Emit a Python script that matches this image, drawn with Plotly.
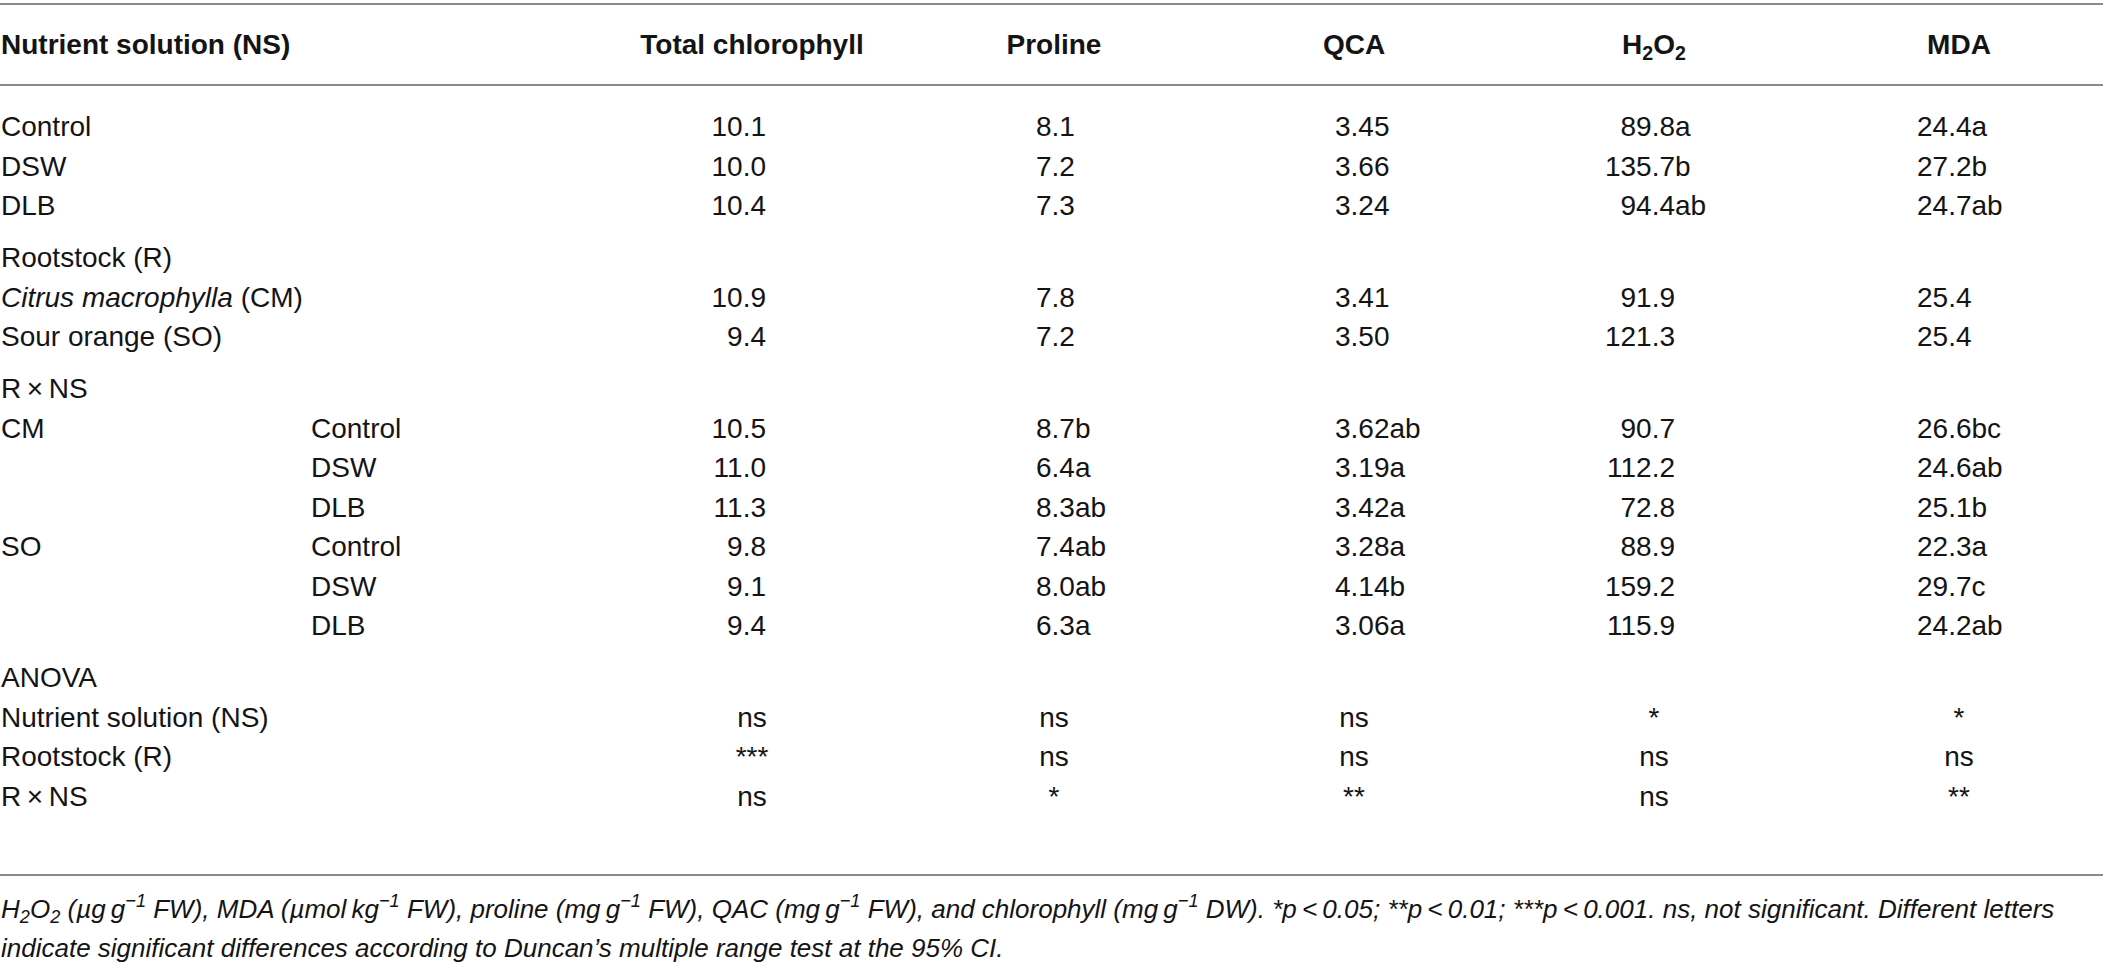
import plotly.graph_objects as go

# ---------------- data ----------------
ns_levels = ["Control", "DSW", "DLB"]
rootstocks = ["<i>Citrus macrophylla</i> (CM)", "Sour orange (SO)"]
rxns_rootstock = ["CM", "", "", "SO", "", ""]
rxns_solution = ["Control", "DSW", "DLB", "Control", "DSW", "DLB"]
anova_sources = ["Nutrient solution (NS)", "Rootstock (R)", "R\u2009×\u2009NS"]
section_titles = ["Rootstock (R)", "R\u2009×\u2009NS", "ANOVA"]

row_header = "Nutrient solution (NS)"
column_headers = ["Total chlorophyll", "Proline", "QCA", "H<sub>2</sub>O<sub>2</sub>", "MDA"]

chlorophyll = [10.1, 10.0, 10.4, 10.9, 9.4, 10.5, 11.0, 11.3, 9.8, 9.1, 9.4]
chlorophyll_letters = ["", "", "", "", "", "", "", "", "", "", ""]
proline = [8.1, 7.2, 7.3, 7.8, 7.2, 8.7, 6.4, 8.3, 7.4, 8.0, 6.3]
proline_letters = ["", "", "", "", "", "b", "a", "ab", "ab", "ab", "a"]
qca = [3.45, 3.66, 3.24, 3.41, 3.50, 3.62, 3.19, 3.42, 3.28, 4.14, 3.06]
qca_letters = ["", "", "", "", "", "ab", "a", "a", "a", "b", "a"]
h2o2 = [89.8, 135.7, 94.4, 91.9, 121.3, 90.7, 112.2, 72.8, 88.9, 159.2, 115.9]
h2o2_letters = ["a", "b", "ab", "", "", "", "", "", "", "", ""]
mda = [24.4, 27.2, 24.7, 25.4, 25.4, 26.6, 24.6, 25.1, 22.3, 29.7, 24.2]
mda_letters = ["a", "b", "ab", "", "", "bc", "ab", "b", "a", "c", "ab"]

anova_chlorophyll = ["ns", "***", "ns"]
anova_proline = ["ns", "ns", "*"]
anova_qca = ["ns", "ns", "**"]
anova_h2o2 = ["*", "ns", "ns"]
anova_mda = ["*", "ns", "**"]

footnote_lines = [
    "<i>H<sub>2</sub>O<sub>2</sub> (µg\u2009g<sup>−1</sup> FW), MDA (µmol\u2009kg<sup>−1</sup> FW), "
    "proline (mg\u2009g<sup>−1</sup> FW), QAC (mg\u2009g<sup>−1</sup> FW), and chlorophyll "
    "(mg\u2009g<sup>−1</sup> DW). *p\u2009&lt;\u20090.05; **p\u2009&lt;\u20090.01; "
    "***p\u2009&lt;\u20090.001. ns, not significant. Different letters</i>",
    "<i>indicate significant differences according to Duncan’s multiple range test at the 95% CI.</i>",
]

# ---------------- layout constants ----------------
W, H = 2103, 964
FONT = "Liberation Sans, Arial, Helvetica, sans-serif"
FS = 28
FS_NOTE = 26
TXT = "#141414"
RULE = "#8a8a8a"

ROW0, ROW_STEP, GROUP_GAP = 129, 39.5, 12.5
HEADER_Y = 47
RULE_YS = [4, 85, 875]
NOTE_YS = [911, 950]

X_LABEL = 1
X_SUB = 311
COL_CENTERS = [752, 1054, 1354, 1654, 1959]
X_CHL_RIGHT = 766
X_PRO_LEFT = 1036
X_QCA_LEFT = 1335
X_H2O2_RIGHT = 1675
X_MDA_LEFT = 1917

# ---------------- row structure ----------------
rows = []  # (label, sub, data_index, anova_index, group)
for k, l in enumerate(ns_levels):
    rows.append((l, "", k, None, 0))
rows.append((section_titles[0], "", None, None, 1))
for k, l in enumerate(rootstocks):
    rows.append((l, "", len(ns_levels) + k, None, 1))
rows.append((section_titles[1], "", None, None, 2))
for k in range(len(rxns_solution)):
    rows.append((rxns_rootstock[k], rxns_solution[k], len(ns_levels) + len(rootstocks) + k, None, 2))
rows.append((section_titles[2], "", None, None, 3))
for k, l in enumerate(anova_sources):
    rows.append((l, "", None, k, 3))

row_y = [ROW0 + i * ROW_STEP + r[4] * GROUP_GAP for i, r in enumerate(rows)]
data_y = [None] * len(chlorophyll)
anova_y = [None] * len(anova_sources)
for y, r in zip(row_y, rows):
    if r[2] is not None:
        data_y[r[2]] = y
    if r[3] is not None:
        anova_y[r[3]] = y

fig = go.Figure()


def add_text(xs, ys, texts, pos, size=FS, color=TXT):
    keep = [(x, y, t) for x, y, t in zip(xs, ys, texts) if t]
    fig.add_trace(go.Scatter(
        x=[k[0] for k in keep], y=[k[1] for k in keep], text=[k[2] for k in keep],
        mode="text", textposition=pos,
        textfont=dict(family=FONT, size=size, color=color),
        hoverinfo="skip", showlegend=False,
        cliponaxis=False,
    ))


# row labels
add_text([X_LABEL] * len(rows), row_y, [r[0] for r in rows], "middle right")
add_text([X_SUB] * len(rows), row_y, [r[1] for r in rows], "middle right")

# header
add_text([X_LABEL], [HEADER_Y], ["<b>" + row_header + "</b>"], "middle right")
add_text(COL_CENTERS, [HEADER_Y] * len(column_headers),
         ["<b>" + h + "</b>" for h in column_headers], "middle center")


def fmt(vals, letters, dec):
    return [f"{v:.{dec}f}{l}" for v, l in zip(vals, letters)]


n = len(chlorophyll)
add_text([X_CHL_RIGHT] * n, data_y, fmt(chlorophyll, chlorophyll_letters, 1), "middle left")
add_text([X_PRO_LEFT] * n, data_y, fmt(proline, proline_letters, 1), "middle right")
add_text([X_QCA_LEFT] * n, data_y, fmt(qca, qca_letters, 2), "middle right")
add_text([X_H2O2_RIGHT] * n, data_y, [f"{v:.1f}" for v in h2o2], "middle left")
add_text([X_H2O2_RIGHT] * n, data_y, h2o2_letters, "middle right")
add_text([X_MDA_LEFT] * n, data_y, fmt(mda, mda_letters, 1), "middle right")

# ANOVA significance
for cx, col in zip(COL_CENTERS, [anova_chlorophyll, anova_proline, anova_qca, anova_h2o2, anova_mda]):
    add_text([cx] * len(col), anova_y, col, "middle center")

# footnote
add_text([X_LABEL] * len(footnote_lines), NOTE_YS, footnote_lines, "middle right", size=FS_NOTE)

for y in RULE_YS:
    fig.add_shape(type="line", xref="paper", x0=0, x1=1, yref="y", y0=y, y1=y,
                  line=dict(color=RULE, width=2))

fig.update_layout(
    width=W, height=H, margin=dict(l=0, r=0, t=0, b=0),
    paper_bgcolor="white", plot_bgcolor="white",
    xaxis=dict(range=[0, W], visible=False, fixedrange=True),
    yaxis=dict(range=[H, 0], visible=False, fixedrange=True),
)

fig.write_html("out.html", config={"displayModeBar": False},
               post_script="document.body.style.margin='0';document.body.style.overflow='hidden';")
